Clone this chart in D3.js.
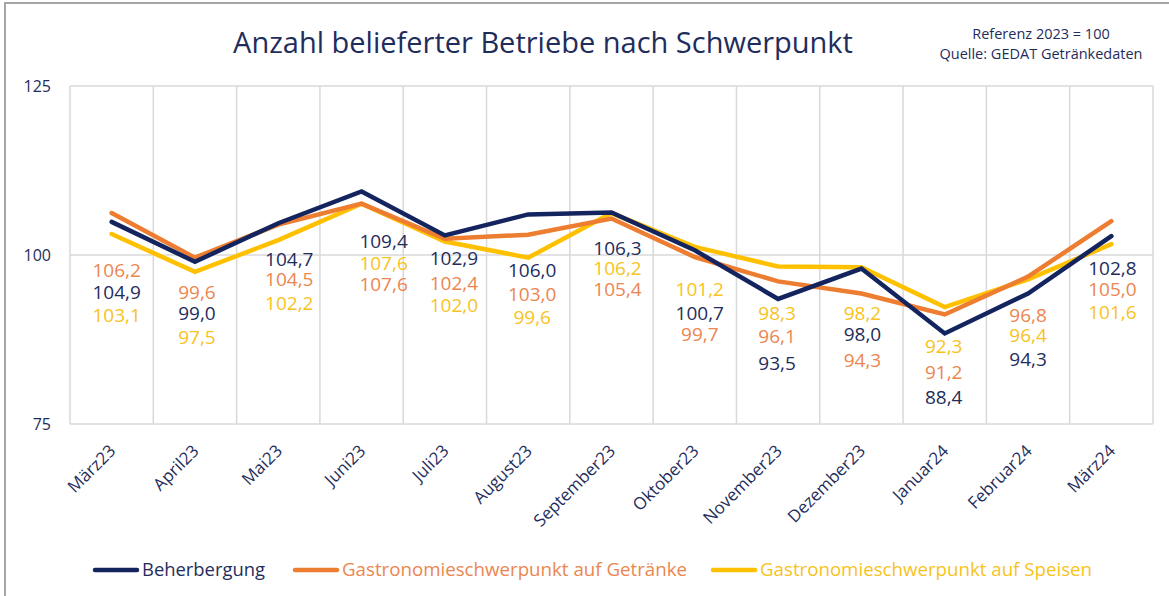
<!DOCTYPE html>
<html>
<head>
<meta charset="utf-8">
<script src="https://cdn.jsdelivr.net/npm/d3@7"></script>
<style>
  html, body { margin: 0; padding: 0; background: #fff; }
  svg { display: block; font-family: "Open Sans", "Noto Sans", sans-serif; }
</style>
</head>
<body>
<svg id="chart" width="1169" height="596"></svg>
<script>
// ---------- data ----------
const categories = ["März23", "April23", "Mai23", "Juni23", "Juli23", "August23", "September23",
                    "Oktober23", "November23", "Dezember23", "Januar24", "Februar24", "März24"];
const beherbergung = [104.9, 99.0, 104.7, 109.4, 102.9, 106.0, 106.3, 100.7, 93.5, 98.0, 88.4, 94.3, 102.8];
const getraenke    = [106.2, 99.6, 104.5, 107.6, 102.4, 103.0, 105.4, 99.7, 96.1, 94.3, 91.2, 96.8, 105.0];
const speisen      = [103.1, 97.5, 102.2, 107.6, 102.0, 99.6, 106.2, 101.2, 98.3, 98.2, 92.3, 96.4, 101.6];
const yTicks = [75, 100, 125];
const seriesNames = ["Beherbergung", "Gastronomieschwerpunkt auf Getränke", "Gastronomieschwerpunkt auf Speisen"];
const titleText = "Anzahl belieferter Betriebe nach Schwerpunkt";
const noteLines = ["Referenz 2023 = 100", "Quelle: GEDAT Getränkedaten"];

// ---------- label layout (pixel positions of data labels, not data) ----------
const labelDx   = [5, 2, 11, 22, 9, 4, 6, 5, -1, 1, -1, 0, 1];
const navLabelY = [292, 313, 259, 241, 258, 270, 248, 313, 363, 334, 397, 359, 268];
const oraLabelY = [270, 292, 279, 284, 283, 294, 289, 334, 336, 360, 372, 315, 289];
const yelLabelY = [315, 337, 303, 263, 305, 317, 268, 289, 313, 313, 346, 335, 312];

// ---------- styles ----------
const lineColors  = ["#14245e", "#ed7d31", "#ffc000"];
const labelColors = ["#1f2d5c", "#eb8650", "#f7c31c"];
const textNavy = "#1f2d5c";

const svg = d3.select("#chart");

// outer frame (top + left visible)
svg.append("rect").attr("x", 5).attr("y", 3).attr("width", 1200).attr("height", 620)
  .attr("fill", "none").attr("stroke", "#a6a6a6").attr("stroke-width", 2);

const x = d3.scaleBand().domain(categories).range([70, 1153]).padding(0);
const y = d3.scaleLinear().domain([75, 125]).range([424, 86]);
const cx = d => x(d) + x.bandwidth() / 2;

// gridlines
const grid = svg.append("g");
grid.selectAll("line.h").data(yTicks).join("line")
  .attr("x1", 70).attr("x2", 1153)
  .attr("y1", d => y(d)).attr("y2", d => y(d))
  .attr("stroke", "#d9d9d9").attr("stroke-width", 1.5);
const vlines = categories.map(c => x(c)).concat([x(categories[categories.length - 1]) + x.bandwidth()]);
grid.selectAll("line.v").data(vlines).join("line")
  .attr("x1", d => d).attr("x2", d => d)
  .attr("y1", y(125)).attr("y2", y(75))
  .attr("stroke", "#d9d9d9").attr("stroke-width", 1.5);

// y axis labels
const yAxis = d3.axisLeft(y).tickValues(yTicks).tickSize(0).tickPadding(0);
const gy = svg.append("g").attr("transform", "translate(51,0)").call(yAxis);
gy.select(".domain").remove();
gy.selectAll("text").attr("fill", textNavy).style("font-size", "16px")
  .style("font-family", "'Open Sans', sans-serif");

// x axis labels
const xAxis = d3.axisBottom(x).tickSize(0).tickPadding(0);
const gx = svg.append("g").attr("transform", "translate(0,424)").call(xAxis);
gx.select(".domain").remove();
gx.selectAll("text")
  .attr("fill", textNavy).style("font-size", "17px")
  .style("font-family", "'Open Sans', sans-serif")
  .attr("text-anchor", "end")
  .attr("dy", null)
  .attr("transform", "translate(5,28) rotate(-45)")
  .attr("y", 0).attr("x", 0);

// lines
const allSeries = [beherbergung, getraenke, speisen];
const line = d3.line().x((d, i) => cx(categories[i])).y(d => y(d));
const drawOrder = [2, 1, 0];
svg.append("g").selectAll("path").data(drawOrder).join("path")
  .attr("d", k => line(allSeries[k]))
  .attr("fill", "none")
  .attr("stroke", k => lineColors[k])
  .attr("stroke-width", 4.5)
  .attr("stroke-linejoin", "miter")
  .attr("stroke-linecap", "round");

// data labels
const fmt = v => v.toFixed(1).replace(".", ",");
const labelYs = [navLabelY, oraLabelY, yelLabelY];
const lbl = svg.append("g");
allSeries.forEach((s, k) => {
  lbl.selectAll(null).data(s).join("text")
    .attr("x", (d, i) => cx(categories[i]) + labelDx[i])
    .attr("y", (d, i) => labelYs[k][i])
    .attr("dy", "0.35em")
    .attr("text-anchor", "middle")
    .attr("fill", labelColors[k])
    .style("font-size", "19px")
    .text(fmt);
});

// title
svg.append("text").attr("x", 543).attr("y", 53)
  .attr("text-anchor", "middle").attr("fill", textNavy)
  .style("font-size", "29px")
  .text(titleText);

// note
svg.append("g").selectAll("text").data(noteLines).join("text")
  .attr("x", 1041).attr("y", (d, i) => 39 + i * 20)
  .attr("text-anchor", "middle").attr("fill", textNavy)
  .style("font-size", "14.5px")
  .text(d => d);

// legend
const legendX = [95, 295, 713];
const legendTextW = [123, 345, 332];
const lg = svg.append("g");
seriesNames.forEach((n, k) => {
  lg.append("line").attr("x1", legendX[k]).attr("x2", legendX[k] + 42)
    .attr("y1", 570).attr("y2", 570)
    .attr("stroke", lineColors[k]).attr("stroke-width", 4.5).attr("stroke-linecap", "round");
  lg.append("text").attr("x", legendX[k] + 47).attr("y", 570).attr("dy", "0.35em")
    .attr("fill", labelColors[k]).style("font-size", "17.5px")
    .attr("textLength", legendTextW[k]).attr("lengthAdjust", "spacingAndGlyphs")
    .text(n);
});
</script>
</body>
</html>
